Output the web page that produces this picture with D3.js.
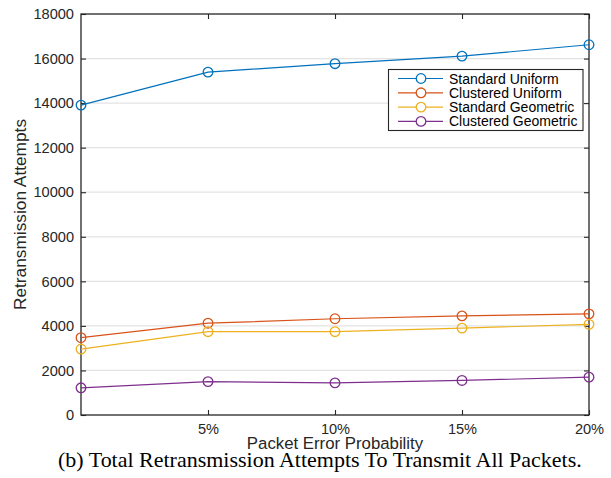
<!DOCTYPE html>
<html>
<head>
<meta charset="utf-8">
<script src="https://cdn.jsdelivr.net/npm/d3@7"></script>
<style>
  html, body { margin: 0; padding: 0; background: #fff; }
  svg { display: block; }
</style>
</head>
<body>
<svg id="chart" width="611" height="478"></svg>
<script>
// ---- data ----
const xValues = [0, 5, 10, 15, 20];
const xTickValues = [5, 10, 15, 20];
const xTickLabels = ["5%", "10%", "15%", "20%"];
const yTickValues = [0, 2000, 4000, 6000, 8000, 10000, 12000, 14000, 16000, 18000];
const seriesNames = ["Standard Uniform", "Clustered Uniform", "Standard Geometric", "Clustered Geometric"];
const standardUniform = [13910, 15390, 15770, 16110, 16620];
const clusteredUniform = [3470, 4120, 4320, 4450, 4540];
const standardGeometric = [2960, 3740, 3740, 3900, 4070];
const clusteredGeometric = [1220, 1500, 1440, 1550, 1700];
const seriesColors = ["#0072BD", "#D95319", "#EDB120", "#7E2F8E"];

const seriesValues = [standardUniform, clusteredUniform, standardGeometric, clusteredGeometric];

// ---- layout ----
const W = 611, H = 478;
const m = { left: 81, right: W - 589, top: 14, bottom: H - 415 };
const pw = W - m.left - m.right, ph = H - m.top - m.bottom;
const axisColor = "#262626";
const font = "'Liberation Sans', Arial, Helvetica, sans-serif";

const svg = d3.select("#chart");
const g = svg.append("g").attr("transform", `translate(${m.left},${m.top})`);

const x = d3.scaleLinear().domain([0, 20]).range([0, pw]);
const y = d3.scaleLinear().domain([0, 18000]).range([ph, 0]);

// grid
g.append("g").selectAll("line").data(yTickValues.filter(v => v > 0 && v < 18000)).join("line")
  .attr("x1", 0).attr("x2", pw)
  .attr("y1", d => y(d)).attr("y2", d => y(d))
  .attr("stroke", "#e3e3e3").attr("stroke-width", 1.2);

// axes
function styleAxis(sel) {
  sel.select(".domain").remove();
  sel.selectAll(".tick line").attr("stroke", axisColor).attr("stroke-width", 1.1);
  sel.selectAll(".tick text").attr("fill", axisColor).style("font-family", font).style("font-size", "14.6px");
}
g.append("g")
  .call(d3.axisLeft(y).tickValues(yTickValues).tickFormat(d3.format("d")).tickSize(-5).tickPadding(7))
  .call(styleAxis);
g.append("g").attr("transform", `translate(${pw},0)`)
  .call(d3.axisRight(y).tickValues(yTickValues).tickFormat("").tickSize(-5))
  .call(styleAxis);
g.append("g").attr("transform", `translate(0,${ph})`)
  .call(d3.axisBottom(x).tickValues(xTickValues).tickFormat((d, i) => xTickLabels[i]).tickSize(-5).tickPadding(9))
  .call(styleAxis);
g.append("g")
  .call(d3.axisTop(x).tickValues(xTickValues).tickFormat("").tickSize(-5))
  .call(styleAxis);

// box
g.append("rect").attr("x", 0).attr("y", 0).attr("width", pw).attr("height", ph)
  .attr("fill", "none").attr("stroke", axisColor).attr("stroke-width", 1.3);

// series
const line = d3.line().x((d, i) => x(xValues[i])).y(d => y(d));
seriesValues.forEach((vals, si) => {
  const sg = g.append("g");
  sg.append("path").datum(vals).attr("d", line)
    .attr("fill", "none").attr("stroke", seriesColors[si]).attr("stroke-width", 1.2);
  sg.selectAll("circle").data(vals).join("circle")
    .attr("cx", (d, i) => x(xValues[i])).attr("cy", d => y(d)).attr("r", 4.8)
    .attr("fill", "none").attr("stroke", seriesColors[si]).attr("stroke-width", 1.3);
});

// axis labels
g.append("text").attr("x", pw / 2).attr("y", 449 - m.top)
  .attr("text-anchor", "middle").attr("fill", axisColor)
  .style("font-family", font).style("font-size", "16.8px")
  .text("Packet Error Probability");
g.append("text").attr("transform", `translate(${26 - m.left},${ph / 2}) rotate(-90)`)
  .attr("text-anchor", "middle").attr("fill", axisColor)
  .style("font-family", font).style("font-size", "17.3px")
  .text("Retransmission Attempts");

// legend
const lg = svg.append("g");
lg.append("rect").attr("x", 388.5).attr("y", 69.5).attr("width", 194.5).attr("height", 61)
  .attr("fill", "#fff").attr("stroke", axisColor).attr("stroke-width", 1.1);
seriesNames.forEach((name, i) => {
  const yy = 78.5 + i * 14.3;
  lg.append("line").attr("x1", 398).attr("x2", 443).attr("y1", yy).attr("y2", yy)
    .attr("stroke", seriesColors[i]).attr("stroke-width", 1.2);
  lg.append("circle").attr("cx", 421).attr("cy", yy).attr("r", 4.8)
    .attr("fill", "#fff").attr("stroke", seriesColors[i]).attr("stroke-width", 1.3);
  lg.append("text").attr("x", 449).attr("y", yy).attr("dy", "0.36em")
    .attr("fill", "#000").style("font-family", font).style("font-size", "14px")
    .text(name);
});

// caption
const cap = svg.append("text").attr("x", 58).attr("y", 467)
  .attr("fill", "#000").style("font-family", "'Liberation Serif', 'Times New Roman', serif")
  .style("font-size", "100px")
  .text("(b) Total Retransmission Attempts To Transmit All Packets.");
const cw = cap.node().getComputedTextLength();
cap.style("font-size", (100 * 524 / cw) + "px");
</script>
</body>
</html>
